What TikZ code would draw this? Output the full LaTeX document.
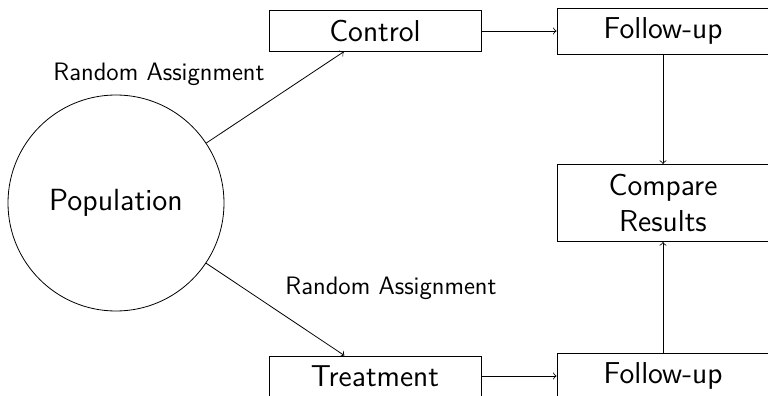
\documentclass[tikz,border=0pt]{standalone}
\usepackage{fontspec}
\begin{document}
\begin{tikzpicture}[x=0.5pt,y=-0.5pt,
  box/.style={draw, minimum width=106pt, inner sep=4.75pt, font=\sffamily\fontsize{15.1}{18.3}\selectfont, align=center},
  popnode/.style={draw, circle, minimum size=108pt, inner sep=0pt, font=\sffamily\fontsize{15.3}{18.3}\selectfont},
  lbl/.style={font=\sffamily\fontsize{12.6}{15}\selectfont, inner sep=0pt},
  arr/.style={->}]
\clip (0,0) rectangle (768,396);
\useasboundingbox (0,0) rectangle (768,396);
\node[popnode] (pop) at (116,203) {Population};
\node[box] (control) at (375,31) {Control};
\node[box] (fu1) at (663,31) {Follow-up};
\node[box] (cmp) at (663,203) {Compare\\Results};
\node[box] (treat) at (375,376) {Treatment};
\node[box] (fu2) at (663,376) {Follow-up};
\node[lbl] (l1) at (159,74) {Random Assignment};
\node[lbl] (l2) at (391,288) {Random Assignment};
\draw[arr] (pop) -- (control);
\draw[arr] (pop) -- (treat);
\draw[arr] (control) -- (fu1);
\draw[arr] (treat) -- (fu2);
\draw[arr] (fu1) -- (cmp);
\draw[arr] (fu2) -- (cmp);
\end{tikzpicture}
\end{document}
